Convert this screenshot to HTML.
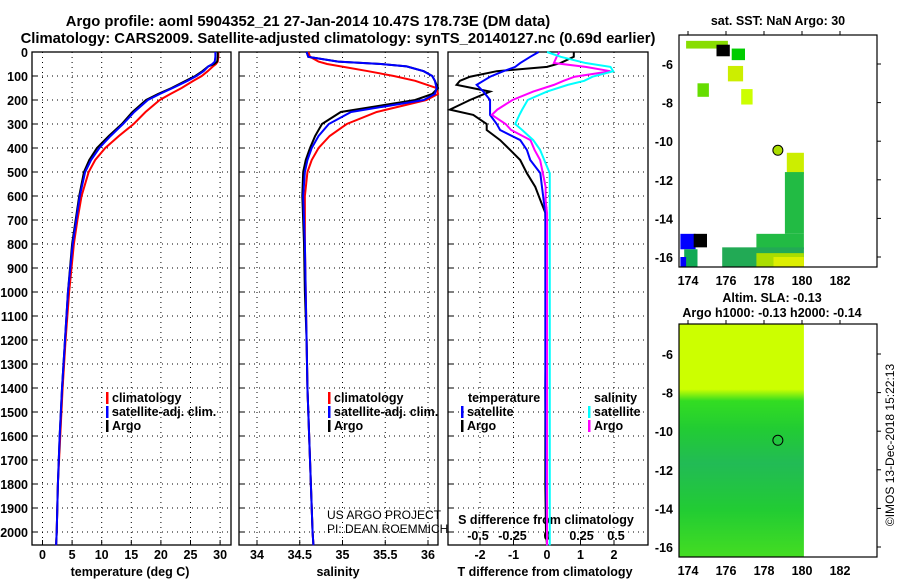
<!DOCTYPE html>
<html><head><meta charset="utf-8"><style>
body{margin:0;background:#fff;}
svg{display:block;font-family:"Liberation Sans",sans-serif;}
.t{font-weight:bold;font-size:14.8px;}
.tk{font-weight:bold;font-size:12.5px;}
</style></head><body>
<svg id="c" width="900" height="580" viewBox="0 0 900 580">
<text class="t" x="308" y="26" text-anchor="middle">Argo profile: aoml 5904352_21 27-Jan-2014 10.47S 178.73E (DM data)</text>
<text class="t" x="338" y="43" text-anchor="middle">Climatology: CARS2009. Satellite-adjusted climatology: synTS_20140127.nc (0.69d earlier)</text>
</svg>
<script>
const depths=[0,20,40,50,60,80,100,120,150,175,200,250,300,350,400,450,500,600,700,800,1000,1200,1400,1600,1800,2000,2055];
const tempArgo=[29.6,29.6,29.5,29.0,28.0,27.0,25.8,24.2,21.8,19.5,17.5,15.2,13.4,11.2,9.2,7.9,7.0,6.2,5.6,5.0,4.3,3.8,3.3,2.9,2.6,2.4,2.3];
const tempSat=[29.2,29.2,29.1,28.7,28.0,27.2,26.0,24.5,22.0,19.8,17.8,15.5,13.6,11.5,9.6,8.2,7.2,6.3,5.7,5.1,4.3,3.8,3.3,2.9,2.6,2.4,2.3];
const tempClim=[29.7,29.7,29.6,29.3,28.8,27.9,26.9,25.5,23.5,21.6,19.8,17.4,15.4,12.9,10.6,8.9,7.8,6.6,5.9,5.3,4.5,3.9,3.4,3.0,2.6,2.4,2.3];
const salArgo=[34.58,34.60,34.95,35.45,35.75,35.95,36.05,36.08,36.12,36.05,35.85,34.98,34.76,34.68,34.62,34.57,34.54,34.53,34.54,34.55,34.56,34.58,34.59,34.61,34.63,34.65,34.66];
const salSat=[34.58,34.60,34.95,35.45,35.75,35.95,36.05,36.08,36.10,36.08,35.95,35.10,34.84,34.72,34.64,34.59,34.56,34.54,34.55,34.56,34.57,34.58,34.59,34.61,34.63,34.65,34.66];
const salClim=[34.60,34.62,34.72,34.82,34.98,35.30,35.60,35.85,36.10,36.12,35.98,35.40,35.05,34.85,34.72,34.64,34.59,34.56,34.56,34.56,34.57,34.58,34.59,34.61,34.63,34.65,34.66];
const dDepths=[0,20,46,62,80,103,120,137,165,200,240,262,300,325,367,408,450,505,562,617,670,800,1000,1400,1800,2000,2055];
const dTArgo=[0.8,0.8,0.4,0,-1.5,-2.3,-2.6,-2.7,-1.7,-2.3,-2.9,-2.2,-1.8,-1.8,-1.4,-1.1,-0.8,-0.6,-0.35,-0.2,-0.05,-0.03,-0.02,-0.05,-0.05,-0.03,0];
const dTSat=[-0.25,-0.5,-0.8,-0.95,-1.3,-1.7,-1.9,-2.1,-1.9,-1.7,-1.7,-1.7,-1.5,-1.4,-0.8,-0.6,-0.5,-0.2,-0.15,-0.1,-0.05,-0.05,-0.05,-0.05,-0.03,0,0];
const dSArgo=[0.09,0.07,0.05,0.28,0.46,0.2,0.12,0.05,-0.1,-0.25,-0.36,-0.4,-0.3,-0.26,-0.12,-0.09,-0.05,-0.03,-0.01,-0.01,0.0,0.0,0.0,0.0,0.0,0.0,0.0];
const dSSat=[0.0,0.1,0.28,0.46,0.48,0.33,0.27,0.15,0.0,-0.14,-0.18,-0.2,-0.23,-0.18,-0.1,-0.05,-0.02,0.02,0.02,0.02,0.02,0.02,0.02,0.02,0.02,0.02,0.02];
const depthTicks=[0,100,200,300,400,500,600,700,800,900,1000,1100,1200,1300,1400,1500,1600,1700,1800,1900,2000];
const tempTicks=[0,5,10,15,20,25,30];
const salTicks=[34,34.5,35,35.5,36];
const salTickLabels=["34","34.5","35","35.5","36"];
const dTTicks=[-2,-1,0,1,2];
const dSTicks=[-0.5,-0.25,0,0.25,0.5];
const dSTickLabels=["-0.5","-0.25","0","0.25","0.5"];
const lonTicks=[174,176,178,180,182];
const latTicks=[-6,-8,-10,-12,-14,-16];

const svg=document.getElementById('c');const NS='http://www.w3.org/2000/svg';
function el(tag,attrs,parent){const e=document.createElementNS(NS,tag);for(const k in attrs)e.setAttribute(k,attrs[k]);(parent||svg).appendChild(e);return e;}
function txt(x,y,s,cls,anchor,name){const e=el('text',{x:x,y:y,class:cls,'text-anchor':anchor||'middle'});e.textContent=s;

return e;}
const TOP=52,BOT=545;
const yD=d=>TOP+d*0.24;
const xT=t=>42.5+t*5.92;
const xS=s=>257+(s-34)*85.5;
const xDT=v=>547+v*33.5;
const xDS=v=>547+v*138;

function panel(x0,x1,name,gridX){
 const g=el('g',{});
 
 
 depthTicks.forEach(d=>{if(d>0){const l=el('line',{x1:x0,x2:x1,y1:yD(d),y2:yD(d),stroke:'#000','stroke-dasharray':'1,4','stroke-width':1},g);
 }
 const a=el('line',{x1:x0,x2:x0+5,y1:yD(d),y2:yD(d),stroke:'#000'},g);});
 gridX.forEach(x=>{const l=el('line',{x1:x,x2:x,y1:TOP,y2:BOT,stroke:'#000','stroke-dasharray':'1,4'},g);
 
 const t=el('line',{x1:x,x2:x,y1:BOT,y2:BOT-5,stroke:'#000'},g);});
 const r=el('rect',{x:x0,y:TOP,width:x1-x0,height:BOT-TOP,fill:'none',stroke:'#000','stroke-width':1.3},g);
 
}
panel(32,231,'temperature-panel',tempTicks.map(xT));
panel(239,438,'salinity-panel',salTicks.map(xS));
panel(448,648,'difference-panel',dTTicks.map(xDT));
depthTicks.forEach(d=>txt(28,yD(d)+5,String(d),'tk','end','depth-tick-label'));
tempTicks.forEach(t=>txt(xT(t),559,String(t),'tk','middle','temperature-tick-label'));
salTicks.forEach((s,i)=>txt(xS(s),559,salTickLabels[i],'tk','middle','salinity-tick-label'));
dTTicks.forEach(v=>txt(xDT(v),559,String(v),'tk','middle','t-diff-tick-label'));
dSTicks.forEach((v,i)=>txt(xDS(v),540,dSTickLabels[i],'tk','middle','s-diff-tick-label'));
txt(130,576,'temperature (deg C)','tk','middle','x-axis-title-temperature');
txt(338,576,'salinity','tk','middle','x-axis-title-salinity');
txt(545,576,'T difference from climatology','tk','middle','x-axis-title-t-diff');
txt(546,524,'S difference from climatology','tk','middle','s-diff-axis-title');

function line(vals,ds,xf,x0,x1,color,name){
 const pts=vals.map((v,i)=>[Math.max(x0,Math.min(x1,xf(v))),yD(ds[i])]);
 const p=el('polyline',{points:pts.map(p=>p.join(',')).join(' '),fill:'none',stroke:color,'stroke-width':2});
 
}
line(tempClim,depths,xT,32,231,'#ff0000','temp-climatology-line');
line(tempArgo,depths,xT,32,231,'#000','temp-argo-line');
line(tempSat,depths,xT,32,231,'#0000ff','temp-satellite-line');
line(salClim,depths,xS,239,438,'#ff0000','sal-climatology-line');
line(salArgo,depths,xS,239,438,'#000','sal-argo-line');
line(salSat,depths,xS,239,438,'#0000ff','sal-satellite-line');
line(dTArgo,dDepths,xDT,448,648,'#000','t-diff-argo-line');
line(dTSat,dDepths,xDT,448,648,'#0000ff','t-diff-satellite-line');
line(dSArgo,dDepths,xDS,448,648,'#ff00ff','s-diff-argo-line');
line(dSSat,dDepths,xDS,448,648,'#00ffff','s-diff-satellite-line');

function leg(x,y,color,label,name){const b=el('rect',{x:x,y:y-10,width:2.5,height:12,fill:color});

txt(x+6,y,label,'tk','start',name);}
leg(106,402,'#ff0000','climatology','legend-climatology');
leg(106,416,'#0000ff','satellite-adj. clim.','legend-satellite');
leg(106,430,'#000','Argo','legend-argo');
leg(328,402,'#ff0000','climatology','legend2-climatology');
leg(328,416,'#0000ff','satellite-adj. clim.','legend2-satellite');
leg(328,430,'#000','Argo','legend2-argo');
txt(468,402,'temperature','tk','start','legend-temperature-heading');
leg(461,416,'#0000ff','satellite','legend-t-satellite');
leg(461,430,'#000','Argo','legend-t-argo');
txt(594,402,'salinity','tk','start','legend-salinity-heading');
leg(588,416,'#00ffff','satellite','legend-s-satellite');
leg(588,430,'#ff00ff','Argo','legend-s-argo');
const c1=txt(327,519,'US ARGO PROJECT','','start','credit-project');c1.setAttribute('style','font-size:12px');
const c2=txt(327,533,'PI: DEAN ROEMMICH','','start','credit-pi');c2.setAttribute('style','font-size:12px');

const mx=lon=>688+(lon-174)*19;
function mapFrame(top,bot,latY,name){
 const r=el('rect',{x:679,y:top,width:198,height:bot-top,fill:'none',stroke:'#000','stroke-width':1.2});
 
 lonTicks.forEach(l=>{const t=el('line',{x1:mx(l),x2:mx(l),y1:top,y2:top-4,stroke:'#000'});
  txt(mx(l),bot+18,String(l),'tk','middle',name+'-lon-label');});
 latTicks.forEach(l=>{const t=el('line',{x1:877,x2:881,y1:latY(l),y2:latY(l),stroke:'#000'});
  txt(673,latY(l)+5,String(l),'tk','end',name+'-lat-label');});
}
const ly1=lat=>64+(-6-lat)*19.3;
const ly2=lat=>354+(-6-lat)*19.3;
const sstLon0=[173.9,175.5,176.3,176.1,174.5,176.8,179.2,179.1,177.6,175.8,173.6,174.3,173.8,173.6,177.6,178.5];
const sstLat0=[-4.8,-5.0,-5.2,-6.1,-7.0,-7.3,-10.6,-11.6,-14.8,-15.5,-14.8,-14.8,-15.6,-16.0,-15.8,-16.0];
const sstLon1=[176.1,176.2,177.0,176.9,175.1,177.4,180.1,180.1,180.1,180.1,174.4,175.0,174.5,173.9,180.1,180.1];
const sstLat1=[-5.2,-5.6,-5.8,-6.9,-7.7,-8.1,-11.7,-14.8,-15.6,-16.5,-15.6,-15.5,-16.5,-16.5,-16.5,-16.5];
const sstCol=['#88dd00','#000','#00cc00','#ccee00','#66dd00','#ccff00','#ccee00','#22bb44','#22bb44','#22aa55','#0000ff','#000','#11aa55','#0000ff','#aadd00','#ddee00'];
txt(778,25,'sat. SST: NaN Argo: 30','tk','middle','sst-map-title');
sstCol.forEach((c,i)=>{const r=el('rect',{x:mx(sstLon0[i]),y:ly1(sstLat0[i]),width:mx(sstLon1[i])-mx(sstLon0[i]),height:ly1(sstLat1[i])-ly1(sstLat0[i]),fill:c});
 });
const ac=el('circle',{cx:mx(178.73),cy:ly1(-10.47),r:5,fill:'#aadd00',stroke:'#000'});

mapFrame(35,267,ly1,'sst-map');
txt(772,302,'Altim. SLA: -0.13','tk','middle','sla-map-title');
txt(772,317,'Argo h1000: -0.13 h2000: -0.14','tk','middle','sla-map-subtitle');
const defs=el('defs',{});
const lg=el('linearGradient',{id:'sg',x1:0,y1:0,x2:0,y2:1},defs);
[['0','#ccff00'],['0.28','#ccff00'],['0.33','#33dd22'],['0.45','#22cc33'],['0.6','#22bb55'],['0.8','#22cc33'],['1','#44dd22']].forEach(s=>el('stop',{offset:s[0],'stop-color':s[1]},lg));
const sr=el('rect',{x:679,y:324,width:mx(180.1)-679,height:233,fill:'url(#sg)'});

const ac2=el('circle',{cx:mx(178.73),cy:ly2(-10.47),r:5,fill:'none',stroke:'#000'});

mapFrame(324,557,ly2,'sla-map');
const cr=txt(0,0,'©IMOS 13-Dec-2018 15:22:13','','middle','imos-timestamp');
cr.setAttribute('style','font-size:12px');cr.setAttribute('transform','translate(894,445) rotate(-90)');
</script>
</body></html>
